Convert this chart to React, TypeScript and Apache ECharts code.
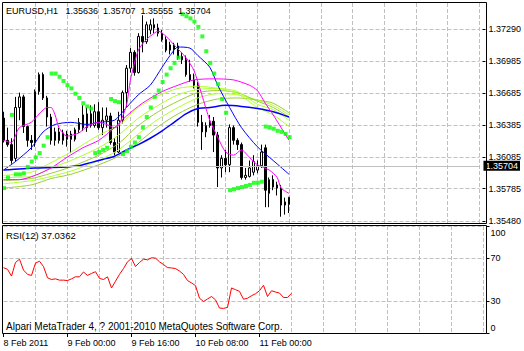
import React, { useEffect, useRef } from "react";
import * as echarts from "echarts";

const FONT = '"Liberation Sans", Arial, sans-serif';

const symbolName = "EURUSD,H1";
const startHourUTC = Date.UTC(2011, 1, 8, 8, 0);
const slotCount = 121;

const timeLabels = ["8 Feb 2011", "9 Feb 00:00", "9 Feb 16:00", "10 Feb 08:00", "11 Feb 00:00"];
const barsPerTimeLabel = 16;
const barsPerGridLine = 8;

const priceTicks = [1.3548, 1.35785, 1.36085, 1.36385, 1.36685, 1.36985, 1.3729];
const priceMin = 1.35461;
const priceMax = 1.37535;
const rsiTicks = [0, 30, 70, 100];
const rsiPeriod = 12;
const copyright = "Alpari MetaTrader 4, ? 2001-2010 MetaQuotes Software Corp.";

const open = [
  1.3645, 1.3624, 1.362, 1.3607, 1.3655, 1.3665, 1.3637, 1.3624, 1.3622, 1.367,
  1.3686, 1.3664, 1.3646, 1.3624, 1.3632, 1.3624, 1.3625, 1.363, 1.3625, 1.3634,
  1.3648, 1.3636, 1.3649, 1.3638, 1.3651, 1.3636, 1.3643, 1.3647, 1.3622, 1.3613,
  1.3643, 1.3669, 1.3692, 1.3707, 1.3688, 1.3722, 1.3717, 1.3728, 1.3733, 1.373,
  1.3725, 1.3719, 1.3709, 1.371, 1.3713, 1.3703, 1.37, 1.3686, 1.3681, 1.3676,
  1.3641, 1.3632, 1.3638, 1.3642, 1.3629, 1.3598, 1.3607, 1.3601, 1.3636, 1.3624,
  1.362, 1.3589, 1.359, 1.3594, 1.3596, 1.36, 1.3617, 1.3574, 1.3587, 1.3582,
  1.3579, 1.3566, 1.35636,
];
const high = [
  1.3651, 1.3636, 1.3626, 1.3665, 1.3669, 1.3667, 1.3638, 1.3629, 1.3672, 1.3688,
  1.3688, 1.3666, 1.3649, 1.3636, 1.3636, 1.3634, 1.3633, 1.3633, 1.3636, 1.3645,
  1.3657, 1.3655, 1.3657, 1.3658, 1.366, 1.3655, 1.3655, 1.365, 1.3626, 1.3651,
  1.3671, 1.3695, 1.3711, 1.3709, 1.3725, 1.3742, 1.3736, 1.3738, 1.3739, 1.3734,
  1.3728, 1.3722, 1.3717, 1.3716, 1.3716, 1.3707, 1.3704, 1.37, 1.3687, 1.3679,
  1.3648, 1.3641, 1.3648, 1.3646, 1.3632, 1.361, 1.3615, 1.3639, 1.3638, 1.3626,
  1.3622, 1.3598, 1.3605, 1.361, 1.3605, 1.362, 1.362, 1.3589, 1.3591, 1.3585,
  1.3582, 1.357, 1.35707,
];
const low = [
  1.3622, 1.3618, 1.3602, 1.3604, 1.3643, 1.3631, 1.3618, 1.3615, 1.3618, 1.3667,
  1.3662, 1.3637, 1.362, 1.3619, 1.3621, 1.362, 1.3618, 1.3612, 1.3623, 1.3631,
  1.3633, 1.3632, 1.3636, 1.3636, 1.3634, 1.3629, 1.3636, 1.362, 1.361, 1.3612,
  1.364, 1.3655, 1.3688, 1.3685, 1.3687, 1.3707, 1.3715, 1.3724, 1.3725, 1.3722,
  1.3717, 1.3707, 1.3705, 1.3705, 1.37, 1.3696, 1.3684, 1.3679, 1.3673, 1.3637,
  1.3615, 1.3627, 1.3636, 1.3613, 1.358, 1.3589, 1.3594, 1.3594, 1.362, 1.3615,
  1.3587, 1.3587, 1.3589, 1.3591, 1.3593, 1.3598, 1.3561, 1.3561, 1.3577, 1.3572,
  1.3552, 1.3554, 1.35555,
];
const close = [
  1.3624, 1.362, 1.3605, 1.3655, 1.3665, 1.3637, 1.3624, 1.3622, 1.367, 1.3686,
  1.3664, 1.3646, 1.3624, 1.3632, 1.3624, 1.3631, 1.363, 1.3625, 1.3634, 1.3641,
  1.3636, 1.3649, 1.3638, 1.3651, 1.3636, 1.3643, 1.3647, 1.3622, 1.3613, 1.3643,
  1.3669, 1.3692, 1.3707, 1.3688, 1.3722, 1.3717, 1.3733, 1.3733, 1.373, 1.3725,
  1.3719, 1.3709, 1.3714, 1.3714, 1.3702, 1.37, 1.3686, 1.3681, 1.3676, 1.3641,
  1.3632, 1.3638, 1.3642, 1.3629, 1.3598, 1.3607, 1.3601, 1.3636, 1.3624, 1.362,
  1.3589, 1.3591, 1.3598, 1.3604, 1.36, 1.3613, 1.3577, 1.3587, 1.358, 1.3579,
  1.3563, 1.3563, 1.35704,
];

const parabolicSar = [
  1.3579, 1.3589, 1.3648, 1.3592, 1.3592, 1.3593, 1.3599, 1.3604, 1.3608, 1.3612,
  1.3619, 1.3627, 1.3687, 1.3687, 1.3684, 1.368, 1.3676, 1.3673, 1.3668, 1.3664,
  1.3659, 1.3656, 1.3654, 1.3612, 1.3613, 1.3615, 1.3617, 1.3663, 1.3661, 1.366,
  1.3611, 1.3614, 1.3618, 1.3622, 1.3627, 1.3636, 1.3646, 1.3655, 1.3665, 1.3671,
  1.3679, 1.3686, 1.3692, 1.3697, 1.3702, 1.3743, 1.3741, 1.3739, 1.3736, 1.3731,
  1.3722, 1.3708, 1.3697, 1.3687, 1.3677, 1.3663, 1.365, 1.3577, 1.3578, 1.3579,
  1.358, 1.3581, 1.3582, 1.3584, 1.3584, 1.3585, 1.3637, 1.3636, 1.3635, 1.3633,
  1.3632, 1.363, 1.3627,
];

const rsi = [
  61.1, 59.5, 53.2, 65.9, 69.0, 58.8, 54.8, 53.8, 65.3, 67.1,
  62.1, 51.6, 50.0, 50.6, 49.4, 49.4, 49.0, 50.6, 52.5, 52.5,
  57.0, 53.8, 55.7, 57.3, 51.0, 50.0, 52.5, 42.1, 48.4, 54.8,
  60.2, 66.5, 69.7, 62.1, 65.9, 69.0, 68.4, 70.3, 70.0, 66.5,
  64.0, 61.1, 60.8, 60.2, 57.9, 54.8, 49.0, 46.8, 44.3, 32.5,
  29.4, 31.8, 34.1, 31.0, 23.3, 23.0, 23.9, 42.1, 40.5, 38.9,
  31.6, 32.5, 34.8, 36.7, 39.5, 44.6, 34.1, 39.5, 38.3, 37.3,
  33.2, 33.2, 37.0362,
];

// moving-average lines: [bar index, price]
const blueFast = [
  [0, 1.3596], [3, 1.3604], [7, 1.3617], [10, 1.3632], [13, 1.3639], [17, 1.3641],
  [21, 1.3639], [24, 1.3641], [28, 1.3643], [31, 1.3655], [34, 1.3667], [37, 1.3676],
  [40, 1.3693], [42, 1.3704], [44, 1.3712], [47, 1.3711], [49, 1.3704], [52, 1.3693],
  [54, 1.3676], [57, 1.3655], [60, 1.3636], [64, 1.3618], [68, 1.3605], [72, 1.3592],
];
const blueSlow = [
  [0, 1.3596], [8, 1.3598], [16, 1.3599], [19, 1.36], [22, 1.3603], [25, 1.3606],
  [28, 1.3609], [31, 1.3615], [34, 1.362], [37, 1.3626], [40, 1.3633], [43, 1.3641],
  [46, 1.3649], [49, 1.3654], [52, 1.3655], [56, 1.3657], [60, 1.3656], [64, 1.3654],
  [68, 1.3651], [72, 1.3646],
];
const magentaFast = [
  [0, 1.3624], [2, 1.3622], [4, 1.3636], [7, 1.3641], [9, 1.3649], [11, 1.3655],
  [12, 1.3655], [13, 1.3648], [14, 1.3636], [16, 1.3628], [19, 1.3631], [21, 1.3637],
  [24, 1.3641], [26, 1.3639], [28, 1.3636], [29, 1.3638], [31, 1.3657], [32, 1.3681],
  [34, 1.3709], [36, 1.3719], [38, 1.3725], [39, 1.3727], [41, 1.3722], [43, 1.3714],
  [46, 1.3702], [48, 1.369], [50, 1.3667], [52, 1.3643], [54, 1.3627], [56, 1.3613],
  [58, 1.361], [60, 1.3615], [62, 1.3608], [64, 1.3601], [67, 1.3596], [69, 1.3589],
  [70, 1.3579], [72, 1.3574],
];
const magentaSlow = [
  [0, 1.3587], [4, 1.3587], [8, 1.3591], [12, 1.3598], [16, 1.3608], [20, 1.3617],
  [24, 1.3624], [28, 1.3636], [31, 1.3647], [35, 1.3659], [40, 1.367], [44, 1.3676],
  [48, 1.3681], [53, 1.3682], [58, 1.3681], [62, 1.3676], [64, 1.3671], [66, 1.3659],
  [68, 1.3648], [70, 1.3636], [72, 1.3624],
];
const ribbonBars = [0, 7, 12, 17, 24, 29, 34, 39, 44, 49, 54, 59, 64, 68, 72];
const ribbon1 = [1.3591, 1.3594, 1.3603, 1.3613, 1.3629, 1.3638, 1.3655, 1.3666, 1.3673, 1.3675, 1.3673, 1.3668, 1.3655, 1.3648, 1.3637];
const ribbon2 = [1.3589, 1.359, 1.3598, 1.3605, 1.3617, 1.3629, 1.3645, 1.3657, 1.3667, 1.3672, 1.3673, 1.367, 1.3658, 1.3653, 1.3643];
const ribbon3 = [1.3586, 1.3588, 1.3593, 1.3599, 1.361, 1.3621, 1.3638, 1.3651, 1.3661, 1.3669, 1.3671, 1.3669, 1.3661, 1.3655, 1.3646];
const ribbon4 = [1.3583, 1.3586, 1.359, 1.3595, 1.3605, 1.3615, 1.363, 1.3644, 1.3655, 1.3664, 1.3668, 1.3667, 1.3662, 1.3657, 1.3648];
const ribbon5 = [1.3579, 1.3582, 1.3588, 1.3592, 1.3601, 1.3609, 1.3622, 1.3637, 1.3649, 1.3658, 1.3663, 1.3664, 1.3662, 1.3659, 1.365];

export default function App() {
  const ref = useRef<HTMLDivElement>(null);

  useEffect(() => {
    if (!ref.current) return;
    const chart = echarts.init(ref.current, null, { renderer: "svg" });

    const categories = Array.from({ length: slotCount }, (_, i) => {
      const d = new Date(startHourUTC + i * 3600000);
      return d.toISOString().slice(0, 16);
    });
    const candles = open.map((o, i) => [o, close[i], low[i], high[i]]);
    const last = open.length - 1;
    const nb = "\u00A0";
    const titleText =
      symbolName + nb + nb + nb +
      [open[last], high[last], low[last], close[last]].map((v) => v.toFixed(5)).join(nb + nb);

    const gridLineInterval = (i: number) => i > 0 && i % barsPerGridLine === 0;
    const labelInterval = (i: number) =>
      i % barsPerTimeLabel === 0 && i / barsPerTimeLabel < timeLabels.length;
    const dashed = { color: "#C0C0C0", type: [4, 2] as any, width: 1 };
    const txt = { color: "#000", fontSize: 9, fontFamily: FONT };

    const lineSeries = (data: number[][], color: string, width = 1) => ({
      type: "line",
      xAxisIndex: 0,
      yAxisIndex: 0,
      data,
      symbol: "none",
      smooth: 0.25,
      lineStyle: { color, width },
      z: 3,
      silent: true,
    });
    const ribbon = (vals: number[], color: string) =>
      lineSeries(ribbonBars.map((b, k) => [b, vals[k]]), color);

    chart.setOption({
      animation: false,
      backgroundColor: "#ffffff",
      grid: [
        { left: 3.5, top: 3, width: 480, height: 220 },
        { left: 3.5, top: 226, width: 480, height: 107 },
      ],
      xAxis: [
        {
          type: "category",
          gridIndex: 0,
          data: categories,
          boundaryGap: false,
          axisLine: { show: false },
          axisTick: { show: false },
          axisLabel: { show: false },
          splitLine: { show: true, interval: gridLineInterval, lineStyle: dashed },
        },
        {
          type: "category",
          gridIndex: 1,
          data: categories,
          boundaryGap: false,
          axisLine: { show: false },
          axisTick: { show: true, interval: labelInterval, length: 4, lineStyle: { color: "#000" } },
          axisLabel: {
            show: true,
            interval: labelInterval,
            formatter: (_v: string, i: number) => timeLabels[i / barsPerTimeLabel] ?? "",
            align: "left",
            margin: 5,
            ...txt,
          },
          splitLine: { show: true, interval: gridLineInterval, lineStyle: dashed },
        },
      ],
      yAxis: [
        {
          type: "value",
          gridIndex: 0,
          position: "right",
          offset: 3,
          min: priceMin,
          max: priceMax,
          axisLine: { show: false },
          axisTick: { show: true, length: 3, customValues: priceTicks, lineStyle: { color: "#000" } },
          axisLabel: {
            customValues: priceTicks,
            formatter: (v: number) => v.toFixed(5),
            margin: 6,
            ...txt,
          },
          splitLine: { show: true, lineStyle: dashed },
        },
        {
          type: "value",
          gridIndex: 1,
          position: "right",
          offset: 3,
          min: 0,
          max: 100,
          axisLine: { show: false },
          axisTick: { show: true, length: 3, customValues: rsiTicks, lineStyle: { color: "#000" } },
          axisLabel: {
            customValues: rsiTicks,
            formatter: (v: number) => (v === 100 ? "{top|100}" : v === 0 ? "{bot|0}" : String(v)),
            margin: 4,
            ...txt,
            rich: {
              top: { ...txt, padding: [14, 0, 0, 0] },
              bot: { ...txt, padding: [0, 0, 10, 0] },
            },
          },
          splitLine: { show: true, lineStyle: dashed },
        },
      ],
      series: [
        {
          type: "candlestick",
          xAxisIndex: 0,
          yAxisIndex: 0,
          data: candles,
          barWidth: 2,
          silent: true,
          itemStyle: {
            color: "#ffffff",
            color0: "#000000",
            borderColor: "#000000",
            borderColor0: "#000000",
            borderWidth: 1,
          },
          z: 2,
          markLine: {
            silent: true,
            symbol: ["none", "none"],
            data: [{ yAxis: close[last] }],
            lineStyle: { color: "#C0C0C0", type: "solid", width: 1 },
            label: {
              show: true,
              position: "end",
              formatter: close[last].toFixed(5),
              color: "#ffffff",
              backgroundColor: "#000000",
              fontSize: 9,
              fontFamily: FONT,
              lineHeight: 10,
              padding: [0, 2, 0, 2],
              distance: 4,
            },
          },
        },
        ribbon(ribbon5, "#9ACD32"),
        ribbon(ribbon4, "#ADFF2F"),
        ribbon(ribbon3, "#9ACD32"),
        ribbon(ribbon2, "#ADFF2F"),
        ribbon(ribbon1, "#ADFF2F"),
        lineSeries(blueSlow, "#0000FF", 1.5),
        lineSeries(blueFast, "#0000FF", 1),
        lineSeries(magentaSlow, "#FF00FF", 1),
        lineSeries(magentaFast, "#FF00FF", 1),
        {
          type: "scatter",
          xAxisIndex: 0,
          yAxisIndex: 0,
          data: parabolicSar,
          symbol: "rect",
          symbolSize: 4,
          symbolOffset: [0.5, 0],
          itemStyle: { color: "#00FF00" },
          silent: true,
          z: 5,
        },
        {
          type: "line",
          xAxisIndex: 1,
          yAxisIndex: 1,
          data: rsi,
          symbol: "none",
          lineStyle: { color: "#FF0000", width: 1 },
          silent: true,
          z: 3,
        },
      ],
      graphic: [
        {
          type: "rect",
          silent: true,
          z: 100,
          shape: { x: 2.5, y: 2.5, width: 484, height: 221 },
          style: { fill: "none", stroke: "#000", lineWidth: 1 },
        },
        {
          type: "rect",
          silent: true,
          z: 100,
          shape: { x: 2.5, y: 225.5, width: 484, height: 108 },
          style: { fill: "none", stroke: "#000", lineWidth: 1 },
        },
        {
          type: "text",
          silent: true,
          z: 101,
          x: 6,
          y: 11,
          style: { text: titleText, fill: "#000", fontSize: 9, fontFamily: FONT, verticalAlign: "middle" },
        },
        {
          type: "text",
          silent: true,
          z: 101,
          x: 6,
          y: 235.5,
          style: {
            text: `RSI(${rsiPeriod}) ${rsi[last].toFixed(4)}`,
            fill: "#000",
            fontSize: 9.5,
            fontFamily: FONT,
            verticalAlign: "middle",
          },
        },
        {
          type: "text",
          silent: true,
          z: 101,
          x: 6,
          y: 326,
          style: { text: copyright, fill: "#000", fontSize: 10, fontFamily: FONT, verticalAlign: "middle" },
        },
      ],
    });

    return () => chart.dispose();
  }, []);

  return (
    <div
      ref={ref}
      style={{ position: "fixed", left: 0, top: 0, width: 524, height: 351, background: "#fff" }}
    />
  );
}
